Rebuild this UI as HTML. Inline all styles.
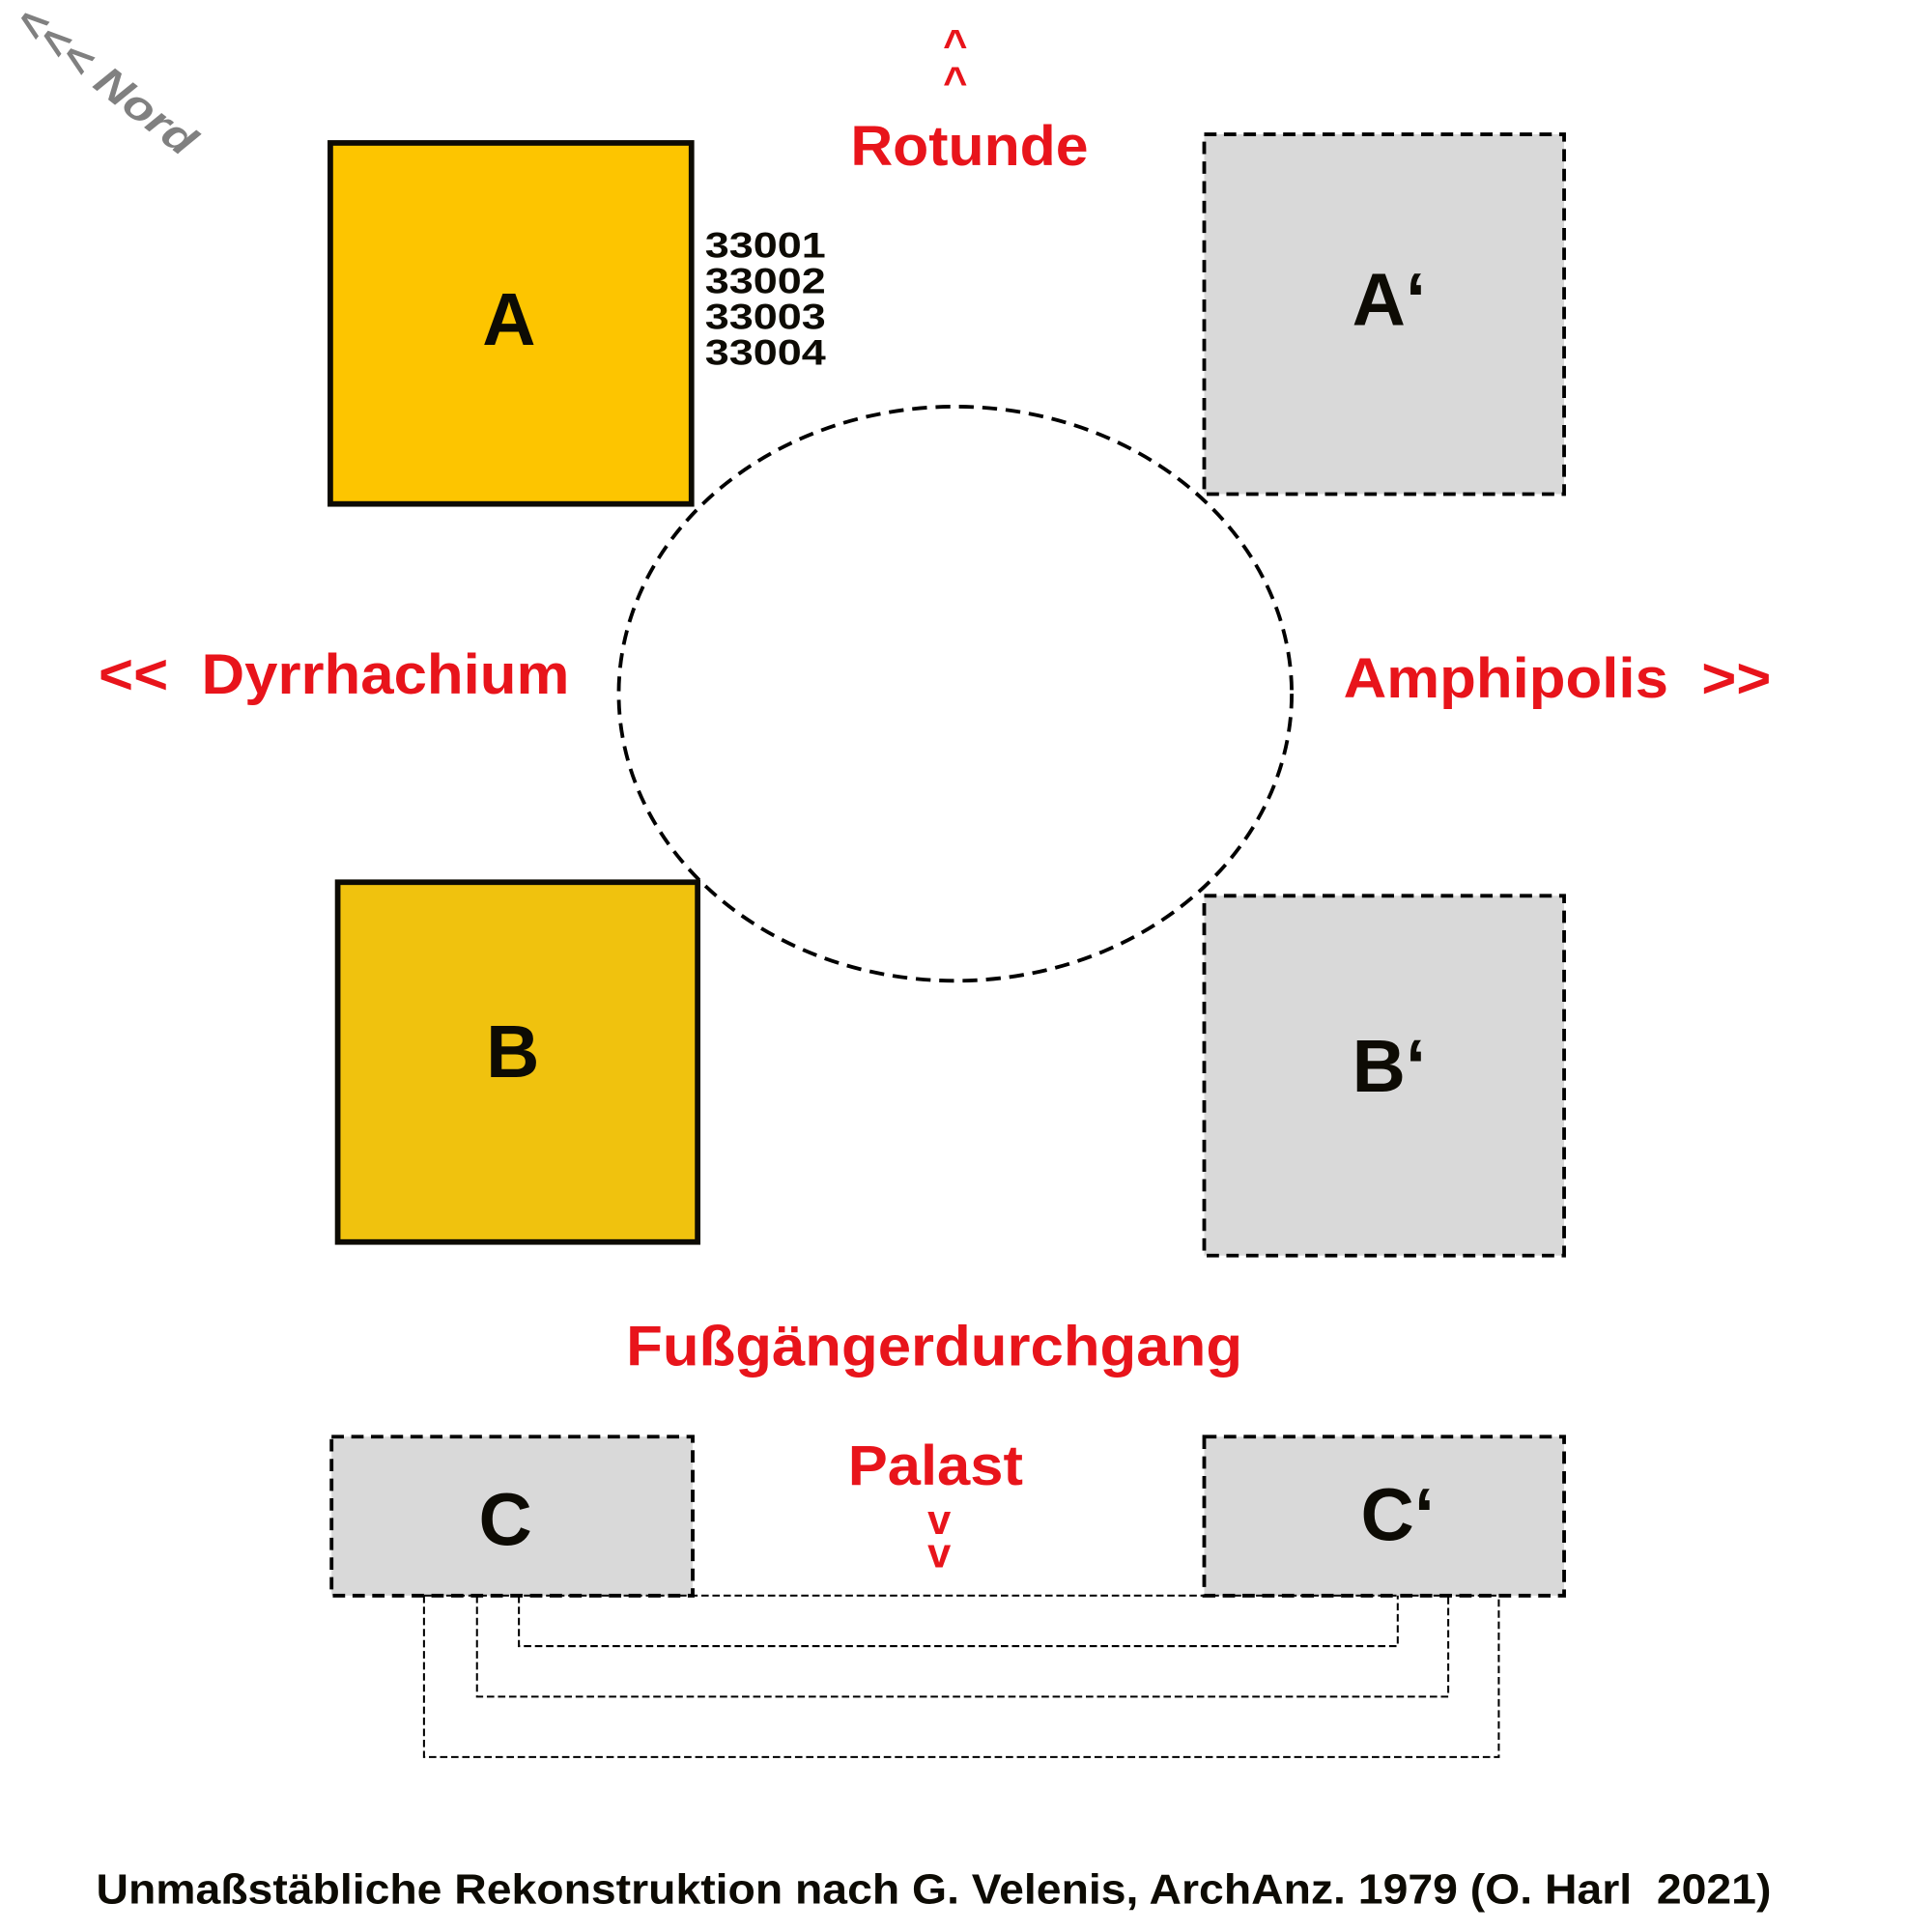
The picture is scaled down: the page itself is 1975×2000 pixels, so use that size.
<!DOCTYPE html>
<html><head><meta charset="utf-8"><style>html,body{margin:0;padding:0;background:#fff}svg{display:block}</style></head>
<body>
<svg width="1975" height="2000" viewBox="0 0 1548 1568" preserveAspectRatio="none" xmlns="http://www.w3.org/2000/svg" font-family="'Liberation Sans', sans-serif" font-weight="bold">
<rect width="1548" height="1568" fill="#fff"/>
<text x="10" y="20" font-size="34" font-style="italic" fill="#808080" transform="rotate(38 10 20)" textLength="175" lengthAdjust="spacingAndGlyphs">&lt;&lt;&lt; Nord</text>
<text x="775" y="48" font-size="34" fill="#e8141b" text-anchor="middle">^</text>
<text x="775" y="78" font-size="34" fill="#e8141b" text-anchor="middle">^</text>
<text x="690" y="134" font-size="46" fill="#e8141b" textLength="193" lengthAdjust="spacingAndGlyphs">Rotunde</text>
<rect x="268" y="116" width="293" height="293" fill="#fdc500" stroke="#0d0b04" stroke-width="4.5"/>
<text x="413" y="280" font-size="60" fill="#0d0b04" text-anchor="middle">A</text>
<g font-size="29" fill="#0d0b04">
<text x="572" y="209" textLength="98" lengthAdjust="spacingAndGlyphs">33001</text>
<text x="572" y="238" textLength="98" lengthAdjust="spacingAndGlyphs">33002</text>
<text x="572" y="267" textLength="98" lengthAdjust="spacingAndGlyphs">33003</text>
<text x="572" y="296" textLength="98" lengthAdjust="spacingAndGlyphs">33004</text>
</g>
<rect x="977" y="109" width="292" height="292" fill="#d9d9d9" stroke="#000" stroke-width="3" stroke-dasharray="10 6"/>
<text x="1127" y="264" font-size="60" fill="#0d0b04" text-anchor="middle">A‘</text>
<ellipse cx="775" cy="563" rx="273" ry="233" fill="none" stroke="#000" stroke-width="3" stroke-dasharray="12 7"/>
<text x="80" y="563" font-size="46" fill="#e8141b" xml:space="preserve" textLength="382" lengthAdjust="spacingAndGlyphs">&lt;&lt;  Dyrrhachium</text>
<text x="1090" y="566" font-size="46" fill="#e8141b" xml:space="preserve" textLength="347" lengthAdjust="spacingAndGlyphs">Amphipolis  &gt;&gt;</text>
<rect x="274" y="716" width="292" height="292" fill="#f0c20e" stroke="#0d0b04" stroke-width="4.5"/>
<text x="416" y="874" font-size="60" fill="#0d0b04" text-anchor="middle">B</text>
<rect x="977" y="727" width="292" height="292" fill="#d9d9d9" stroke="#000" stroke-width="3" stroke-dasharray="10 6"/>
<text x="1127" y="886" font-size="60" fill="#0d0b04" text-anchor="middle">B‘</text>
<text x="508" y="1108" font-size="46" fill="#e8141b" textLength="500" lengthAdjust="spacingAndGlyphs">Fußgängerdurchgang</text>
<rect x="269" y="1166" width="293" height="129" fill="#d9d9d9" stroke="#000" stroke-width="3" stroke-dasharray="10 6"/>
<text x="410" y="1254" font-size="60" fill="#0d0b04" text-anchor="middle">C</text>
<rect x="977" y="1166" width="292" height="129" fill="#d9d9d9" stroke="#000" stroke-width="3" stroke-dasharray="10 6"/>
<text x="1134" y="1250" font-size="60" fill="#0d0b04" text-anchor="middle">C‘</text>
<text x="688" y="1205" font-size="46" fill="#e8141b" textLength="142" lengthAdjust="spacingAndGlyphs">Palast</text>
<text x="762" y="1245" font-size="34" fill="#e8141b" text-anchor="middle">v</text>
<text x="762" y="1272" font-size="34" fill="#e8141b" text-anchor="middle">v</text>
<g fill="none" stroke="#000" stroke-width="1.6" stroke-dasharray="6 3">
<polyline points="344,1295 344,1426 1216,1426 1216,1295"/>
<polyline points="387,1295 387,1377 1175,1377 1175,1295"/>
<polyline points="421,1295 421,1336 1134,1336 1134,1295"/>
<line x1="344" y1="1295" x2="1216" y2="1295"/>
</g>
<text x="78" y="1545" font-size="34" fill="#0d0b04" textLength="1359" lengthAdjust="spacingAndGlyphs" xml:space="preserve">Unmaßstäbliche Rekonstruktion nach G. Velenis, ArchAnz. 1979 (O. Harl  2021)</text>
</svg>
</body></html>
